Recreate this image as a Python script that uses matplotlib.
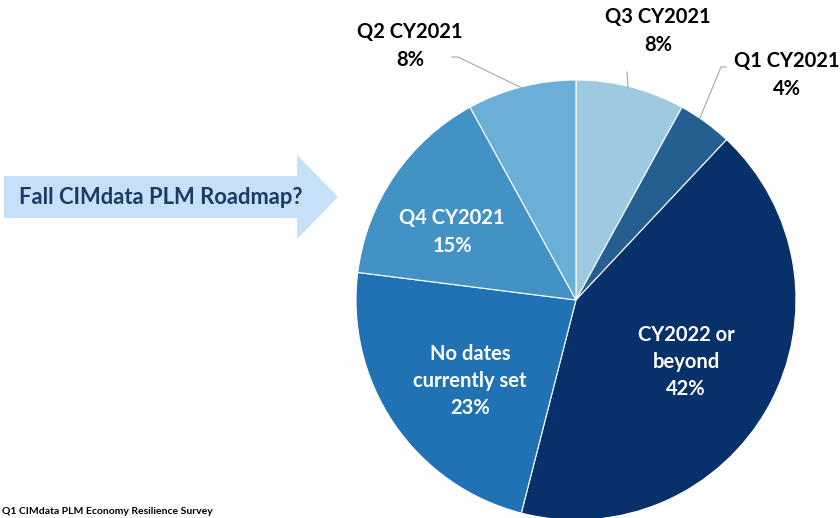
import matplotlib.pyplot as plt
from matplotlib.patches import Polygon

# slices, clockwise from 12 o'clock
labels = ["Q3 CY2021", "Q1 CY2021", "CY2022 or\nbeyond", "No dates\ncurrently set", "Q4 CY2021", "Q2 CY2021"]
shares = [8, 4, 42, 23, 15, 8]
colors = ["#9ECAE1", "#255E91", "#08306B", "#2171B5", "#4292C6", "#6BAED6"]
inside = [False, False, True, True, True, False]

W, H = 840, 518
fig = plt.figure(figsize=(W / 100, H / 100), dpi=100)
ax = fig.add_axes([0, 0, 1, 1])
font = "Lato"

cx, cy, r = 576, H - 300, 220
wedges, _ = ax.pie(shares, colors=colors, startangle=90, counterclock=False,
                   center=(cx, cy), radius=r,
                   wedgeprops=dict(edgecolor="white", linewidth=0.8))
ax.set_xlim(0, W)
ax.set_ylim(0, H)
ax.set_aspect("equal")
ax.axis("off")

# label positions in pixel coords (x, y of label centre)
inside_pos = {2: (686, 362), 3: (470, 381), 4: (452, 232)}
outside_pos = {0: (658, 31), 1: (787, 75), 5: (410, 46)}
leaders = {0: [(627, 72), (628, 88)],
           1: [(726, 67), (721, 67), (700, 118)],
           5: [(452, 57), (458, 57), (522, 88)]}

for i, (lab, val) in enumerate(zip(labels, shares)):
    txt = f"{lab}\n{val}%"
    if inside[i]:
        x, y = inside_pos[i]
        ax.text(x, H - y, txt, ha="center", va="center", color="white",
                fontsize=14.5, fontweight="bold", family=font, linespacing=1.45)
    else:
        x, y = outside_pos[i]
        ax.text(x, H - y, txt, ha="center", va="center", color="black",
                fontsize=14.5, fontweight="bold", family=font, linespacing=1.45)
        pts = leaders[i]
        ax.plot([p[0] for p in pts], [H - p[1] for p in pts], color="#A6A6A6", lw=0.8)

# callout arrow
arrow = [(4, 176), (297, 176), (297, 155), (338, 197), (297, 239), (297, 218), (4, 218)]
ax.add_patch(Polygon([(x, H - y) for x, y in arrow], closed=True,
                     facecolor="#C6E0F7", edgecolor="none"))
ax.text(19, H - 197, "Fall CIMdata PLM Roadmap?", ha="left", va="center",
        color="#1F3864", fontsize=15.8, fontweight="bold", family=font)

# source note at the bottom edge
ax.text(2, H - 516, "Q1 CIMdata PLM Economy Resilience Survey", ha="left", va="bottom",
        color="black", fontsize=7.5, fontweight="bold", family=font)

fig.savefig("out.png", dpi=100)
